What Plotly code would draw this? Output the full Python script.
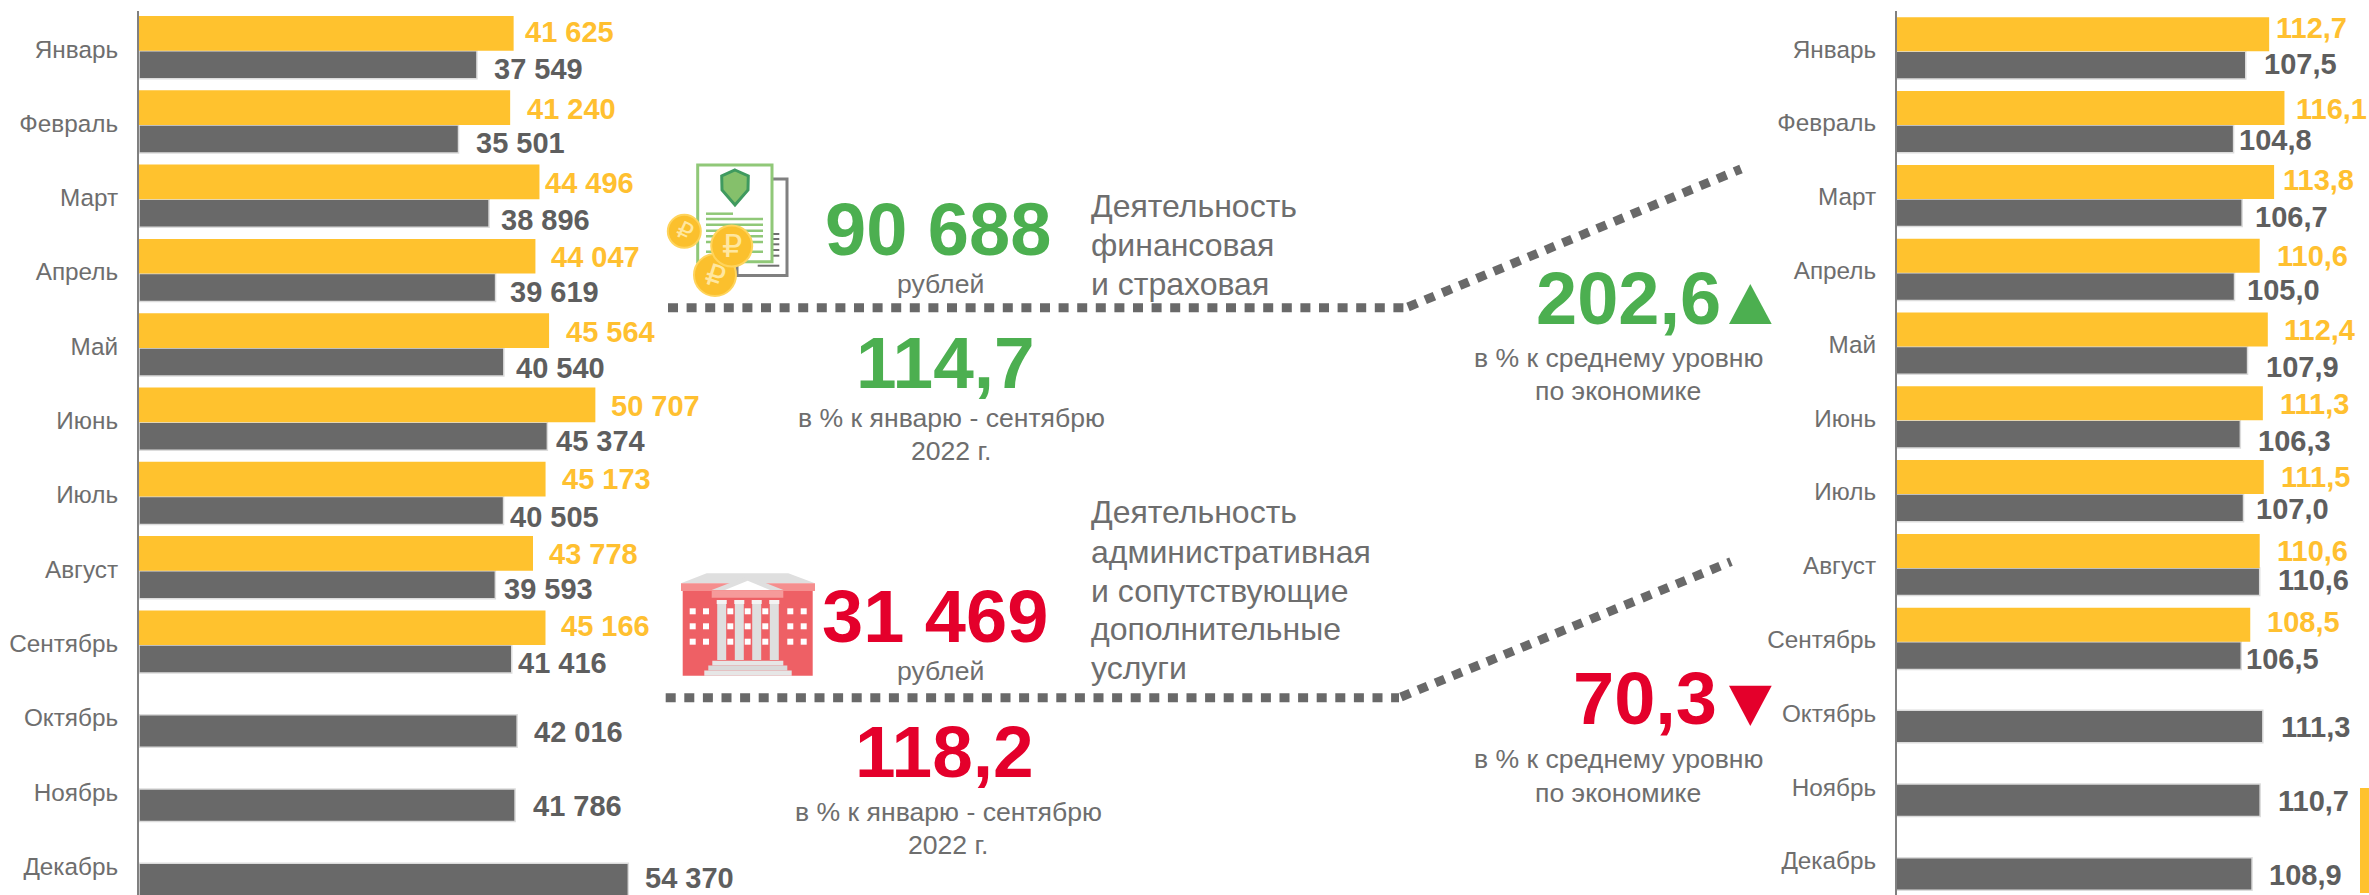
import plotly.graph_objects as go

W, H = 2369, 895

months = ["Январь", "Февраль", "Март", "Апрель", "Май", "Июнь", "Июль", "Август",
          "Сентябрь", "Октябрь", "Ноябрь", "Декабрь"]
wage_2023 = [41625, 41240, 44496, 44047, 45564, 50707, 45173, 43778, 45166, None, None, None]
wage_2022 = [37549, 35501, 38896, 39619, 40540, 45374, 40505, 39593, 41416, 42016, 41786, 54370]
index_2023 = [112.7, 116.1, 113.8, 110.6, 112.4, 111.3, 111.5, 110.6, 108.5, None, None, None]
index_2022 = [107.5, 104.8, 106.7, 105.0, 107.9, 106.3, 107.0, 110.6, 106.5, 111.3, 110.7, 108.9]

GOLD = "#FFC22E"
GOLD_TXT = "#FFC030"
GREY = "#696969"
GREY_TXT = "#5E5E5E"
LABEL = "#6E6E6E"
GREEN = "#4CAF50"
RED = "#E4002B"

# label nudges (px) relative to each bar end / category centre
l_gold_dx = [11, 16.5, 6, 16, 16.5, 16, 16, 16, 16]
l_gold_dy = [-17, -14.3, -15, -15, -14.5, -14.8, -15.8, -15.4, -17.7]
l_grey_dx = [17, 17, 12, 14, 12, 9, 6.5, 9, 6.5, 17, 18, 17]
l_grey_dy = [20, 19.7, 22.4, 20, 21.8, 20, 21.9, 19.6, 19.3, 14.3, 14, 12]
r_gold_dx = [7, 11.5, 8.7, 17.4, 16.6, 17.4, 17.4, 17.4, 17]
r_gold_dy = [-21, -13.8, -16.6, -14.4, -14.2, -14, -14.8, -14.6, -17.4]
r_grey_dx = [17.8, 5, 12.6, 12.2, 18, 18, 12.6, 17.8, 4.3, 17.8, 17.8, 17.4]
r_grey_dy = [15, 17.2, 20.4, 19.6, 22.5, 22.7, 17.2, 14.4, 19.6, 13.8, 14, 14.2]


def fx(p):
    return p / W


def fy(p):
    return 1 - p / H


fig = go.Figure()
annotations = []
shapes = []


def panel(xa, ya, gold, grey, pitch, first, g_top, g_mid, g_bot, fmt, gdx, gdy, ydx, ydy):
    """Add a pair of bar traces and their value labels to one axis pair."""
    n = len(months)
    off_grey = [(g_mid if g is not None else -3) / pitch for g in gold]
    wid_grey = [((g_bot - g_mid) if g is not None else 32.5) / pitch for g in gold]
    fig.add_trace(go.Bar(
        y=months, x=grey, orientation="h", xaxis=xa, yaxis=ya,
        width=wid_grey, offset=off_grey,
        marker=dict(color=GREY, line=dict(color="#DCDCDC", width=1.5)),
        showlegend=False, hoverinfo="x+y"))
    fig.add_trace(go.Bar(
        y=months, x=gold, orientation="h", xaxis=xa, yaxis=ya,
        width=[(g_mid - g_top) / pitch] * n, offset=[g_top / pitch] * n,
        marker=dict(color=GOLD, line=dict(width=0)),
        showlegend=False, hoverinfo="x+y"))
    for i, v in enumerate(grey):
        annotations.append(dict(x=v, y=months[i], xref=xa, yref=ya, text=fmt(v),
                                xanchor="left", yanchor="middle", xshift=ydx[i], yshift=-ydy[i],
                                showarrow=False, borderpad=0, borderwidth=0,
                                font=dict(size=29, color=GREY_TXT, family="Liberation Sans"),
                                ))
    for i, v in enumerate(gold):
        if v is None:
            continue
        annotations.append(dict(x=v, y=months[i], xref=xa, yref=ya, text=fmt(v),
                                xanchor="left", yanchor="middle", xshift=gdx[i], yshift=-gdy[i],
                                showarrow=False, borderpad=0, borderwidth=0,
                                font=dict(size=29, color=GOLD_TXT, family="Liberation Sans")))


fmt_int = lambda v: "<b>" + f"{v:,}".replace(",", " ") + "</b>"
fmt_pct = lambda v: "<b>" + f"{v:.1f}".replace(".", ",") + "</b>"

panel("x", "y", wage_2023, wage_2022, 74.3, 49, -33, 1.7, 29.7, fmt_int,
      l_gold_dx, l_gold_dy, l_grey_dx, l_grey_dy)
panel("x2", "y2", index_2023, index_2022, 73.8, 49, -31.7, 2.3, 30, fmt_pct,
      r_gold_dx, r_gold_dy, r_grey_dx, r_grey_dy)


def txt(cx, cy, text, size, color, anchor="center", bold=False, angle=0, family="Liberation Sans"):
    annotations.append(dict(x=fx(cx), y=fy(cy), xref="paper", yref="paper",
                            text=f"<b>{text}</b>" if bold else text,
                            xanchor=anchor, yanchor="middle", showarrow=False,
                            borderpad=0, borderwidth=0, textangle=angle,
                            font=dict(size=size, color=color, family=family)))


def rect(x0, y0, x1, y1, fill, line=None, lw=0):
    shapes.append(dict(type="rect", xref="paper", yref="paper",
                       x0=fx(x0), x1=fx(x1), y0=fy(y0), y1=fy(y1), fillcolor=fill,
                       line=dict(color=line or fill, width=lw)))


def poly(pts, fill, line=None, lw=0):
    d = "M" + " L".join(f"{fx(a):.6f},{fy(b):.6f}" for a, b in pts) + " Z"
    shapes.append(dict(type="path", xref="paper", yref="paper", path=d, fillcolor=fill,
                       line=dict(color=line or fill, width=lw)))


def seg(x0, y0, x1, y1, color, width, dash="solid"):
    shapes.append(dict(type="line", xref="paper", yref="paper",
                       x0=fx(x0), x1=fx(x1), y0=fy(y0), y1=fy(y1),
                       line=dict(color=color, width=width, dash=dash)))


def circle(cx, cy, r, fill, line):
    shapes.append(dict(type="circle", xref="paper", yref="paper",
                       x0=fx(cx - r), x1=fx(cx + r), y0=fy(cy - r), y1=fy(cy + r),
                       fillcolor=fill, line=dict(color=line, width=2)))


DOTS = "10px,8.6px"
# dotted leader lines
seg(668, 307.7, 1406, 307.7, GREY, 9, DOTS)
seg(1408, 307, 1741, 169, GREY, 9, DOTS)
seg(665.7, 697.7, 1399, 697.7, GREY, 9, DOTS)
seg(1401, 697, 1731, 561.7, GREY, 9, DOTS)

# triangles and corner tab
poly([(1729, 324), (1750.3, 284), (1771.7, 324)], GREEN)
poly([(1729, 685.7), (1771.7, 685.7), (1750.3, 726)], RED)
rect(2360, 788, 2369, 893, GOLD)

# document icon
rect(737, 179, 787, 275.5, "#FFFFFF", "#808080", 3)
for yy in (234, 239, 244.3, 250, 255.7):
    seg(772.7, yy, 779.3, yy, "#707070", 2)
seg(757.7, 265.7, 779.3, 265.7, "#707070", 2)
rect(697.7, 165, 772, 261.7, "#FFFFFF", "#90C878", 3)
poly([(735, 170), (748.3, 176), (748, 190), (735, 205), (722, 190), (721.7, 176)],
     "#85C06B", "#3F9A5F", 3)
seg(706, 213.7, 733, 213.7, "#90C878", 2.5)
for yy in (219, 224.7, 230.7, 236.3, 242, 251.7):
    seg(706, yy, 763, yy, "#90C878", 2.5)
circle(684.3, 231.3, 16.5, "#FBC02D", "#FFD45C")
circle(715, 275, 21, "#FBC02D", "#FFD45C")
circle(731.7, 246, 20.5, "#FBC02D", "#FFD45C")
txt(684.3, 231.3, "₽", 24, "#FFE7A0", angle=25, family="DejaVu Sans")
txt(715, 275, "₽", 30, "#FFE7A0", angle=18, family="DejaVu Sans")
txt(731.7, 246, "₽", 32, "#FFE7A0", family="DejaVu Sans")

# building icon
BRICK = "#EE6065"
STONE = "#DFDFDF"
poly([(681, 583.3), (706.7, 573.3), (788.3, 573.3), (815, 583.3)], STONE)
rect(682.7, 591, 812.7, 675.7, BRICK)
rect(681, 583.3, 815, 591, "#F58E8E")
poly([(711.7, 590), (747.7, 576), (783.3, 590)], STONE)
poly([(725, 590), (747.7, 580.7), (770, 590)], "#FFFFFF")
rect(711.7, 590.5, 783.3, 597.7, "#F69A9A")
for wx in (692.7, 706, 730.3, 747.7, 765.3, 790.3, 803.7):
    for wy in (611.3, 626.3, 641.7):
        rect(wx - 3, wy - 3, wx + 3, wy + 3, "#FFFFFF")
for cx in (721.7, 739.3, 756.7, 774.3):
    rect(cx - 4.5, 600, cx + 4.5, 660, STONE)
    rect(cx - 5, 600, cx + 5, 604, "#F4F4F4")
rect(712.3, 660.7, 783.3, 665.5, "#E6E6E6")
rect(708.3, 665.5, 787.3, 670.5, "#DADADA")
rect(704.3, 670.5, 791.7, 675.7, "#E6E6E6")

# central figures
SUB = 26.6
HEAD = 32
txt(938, 229, "90 688", 74, GREEN, bold=True)
txt(940.7, 284, "рублей", SUB, LABEL)
for yy, t in zip((206, 245, 284), ("Деятельность", "финансовая", "и страховая")):
    txt(1091, yy, t, HEAD, LABEL, anchor="left")
txt(945.5, 363, "114,7", 73, GREEN, bold=True)
txt(951, 418, "в % к январю - сентябрю", SUB, LABEL)
txt(951, 451, "2022 г.", SUB, LABEL)
txt(1629, 298, "202,6", 74, GREEN, bold=True)
txt(1618.4, 357.7, "в % к среднему уровню", SUB, LABEL)
txt(1618.4, 391, "по экономике", SUB, LABEL)

txt(935, 616, "31 469", 74, RED, bold=True)
txt(940.7, 671, "рублей", SUB, LABEL)
for yy, t in zip((512.3, 551.7, 590.7, 629, 668),
                 ("Деятельность", "административная", "и сопутствующие", "дополнительные", "услуги")):
    txt(1091, yy, t, HEAD, LABEL, anchor="left")
txt(945, 751.5, "118,2", 73, RED, bold=True)
txt(948.8, 811.7, "в % к январю - сентябрю", SUB, LABEL)
txt(948, 845, "2022 г.", SUB, LABEL)
txt(1645, 698, "70,3", 74, RED, bold=True)
txt(1618.4, 759.3, "в % к среднему уровню", SUB, LABEL)
txt(1618.4, 793.3, "по экономике", SUB, LABEL)


def yaxis(pitch, first, standoff):
    top, bottom = 11, 895
    return dict(type="category", categoryorder="array", categoryarray=months,
                range=[(bottom - first) / pitch, (top - first) / pitch],
                domain=[0, 1 - top / H], showline=True, linecolor="#808080", linewidth=2,
                showgrid=False, zeroline=False, ticks="", ticklabelstandoff=standoff,
                tickfont=dict(size=24.3, color=LABEL, family="Liberation Sans"), fixedrange=True)


fig.update_layout(
    width=W, height=H, margin=dict(l=0, r=0, t=0, b=0, pad=0),
    paper_bgcolor="#FFFFFF", plot_bgcolor="rgba(0,0,0,0)",
    barmode="overlay", showlegend=False,
    xaxis=dict(domain=[fx(139), fx(139 + 540)], range=[0, 60000], visible=False, fixedrange=True),
    yaxis=dict(**yaxis(74.3, 49, 14), anchor="x"),
    xaxis2=dict(domain=[fx(1897), fx(1897 + 450)], range=[30, 130], visible=False,
                fixedrange=True, anchor="y2"),
    yaxis2=dict(**yaxis(73.8, 49, 14), anchor="x2"),
    annotations=annotations, shapes=shapes,
    font=dict(family="Liberation Sans"),
)

fig.write_html("out.html", post_script="document.body.style.margin='0';",
               config={"displayModeBar": False})
